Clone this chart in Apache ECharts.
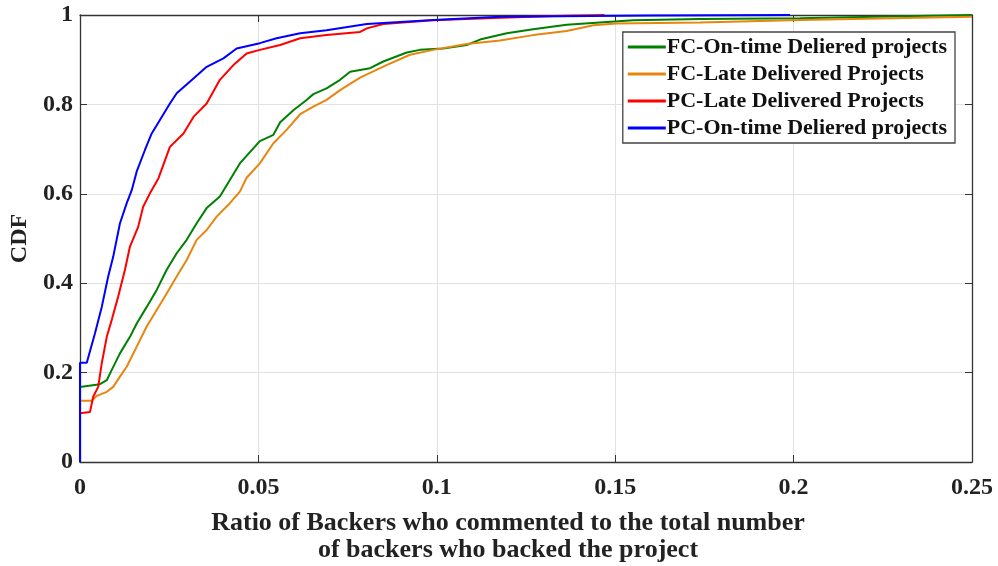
<!DOCTYPE html>
<html>
<head>
<meta charset="utf-8">
<script src="https://cdn.jsdelivr.net/npm/echarts@6/dist/echarts.min.js"></script>
<style>
  html, body { margin: 0; padding: 0; background: #fff; }
  #main { width: 998px; height: 566px; }
</style>
</head>
<body>
<div id="main"></div>
<script>
// series names, in legend order
var seriesNames = ['FC-On-time Deliered projects', 'FC-Late Delivered Projects', 'PC-Late Delivered Projects', 'PC-On-time Deliered projects'];
var seriesColors = ['#008000', '#e8850e', '#ff0000', '#0000ff'];

// [ratio, cdf] points
var fcOnTime = [
  [0, 0.168], [0.0056, 0.174], [0.0075, 0.183], [0.0089, 0.206], [0.0112, 0.243], [0.014, 0.28],
  [0.0159, 0.31], [0.0187, 0.347], [0.0215, 0.385], [0.0243, 0.43], [0.0271, 0.467], [0.0299, 0.497],
  [0.0327, 0.534], [0.0355, 0.568], [0.0392, 0.594], [0.042, 0.631], [0.0448, 0.668], [0.0504, 0.718],
  [0.0542, 0.732], [0.0561, 0.76], [0.0598, 0.787], [0.0635, 0.81], [0.0654, 0.823], [0.0691, 0.836],
  [0.0729, 0.855], [0.0757, 0.873], [0.0813, 0.881], [0.085, 0.896], [0.0916, 0.916], [0.0953, 0.922],
  [0.1018, 0.925], [0.1084, 0.933], [0.1121, 0.945], [0.1196, 0.959], [0.127, 0.968], [0.1364, 0.978],
  [0.1457, 0.983], [0.155, 0.988], [0.1738, 0.991], [0.2018, 0.993], [0.23, 0.997], [0.25, 1.0]
];
var fcLate = [
  [0, 0.137], [0.0033, 0.137], [0.0047, 0.148], [0.0075, 0.157], [0.0093, 0.168], [0.0112, 0.191],
  [0.0131, 0.213], [0.0159, 0.258], [0.0187, 0.303], [0.0215, 0.34], [0.0243, 0.377], [0.0271, 0.415],
  [0.0299, 0.452], [0.0327, 0.497], [0.0355, 0.519], [0.0383, 0.549], [0.042, 0.579], [0.0448, 0.605],
  [0.0467, 0.636], [0.0504, 0.668], [0.0542, 0.713], [0.0579, 0.743], [0.0617, 0.778], [0.0654, 0.795],
  [0.0691, 0.81], [0.0729, 0.832], [0.0785, 0.86], [0.0859, 0.888], [0.0925, 0.911], [0.099, 0.922],
  [0.1084, 0.935], [0.1177, 0.943], [0.127, 0.955], [0.1364, 0.964], [0.1439, 0.977], [0.1504, 0.981],
  [0.1738, 0.983], [0.2018, 0.989], [0.25, 0.996]
];
var pcLate = [
  [0, 0.109], [0.0028, 0.112], [0.0037, 0.146], [0.0051, 0.168], [0.0061, 0.221], [0.0075, 0.28],
  [0.0089, 0.318], [0.0107, 0.37], [0.0126, 0.43], [0.014, 0.482], [0.0163, 0.526], [0.0177, 0.571],
  [0.0196, 0.601], [0.022, 0.635], [0.0252, 0.705], [0.029, 0.735], [0.0318, 0.772], [0.0355, 0.802],
  [0.0392, 0.855], [0.043, 0.888], [0.0467, 0.914], [0.0504, 0.922], [0.0561, 0.933], [0.0617, 0.948],
  [0.0691, 0.955], [0.0785, 0.962], [0.0804, 0.97], [0.085, 0.98], [0.099, 0.988], [0.114, 0.993],
  [0.1327, 0.998], [0.147, 1.0]
];
var pcOnTime = [
  [0, 0], [0, 0.222], [0.0019, 0.222], [0.0042, 0.288], [0.0061, 0.347], [0.0079, 0.415],
  [0.0093, 0.459], [0.0112, 0.534], [0.0131, 0.579], [0.0145, 0.608], [0.0159, 0.65], [0.0182, 0.698],
  [0.0201, 0.735], [0.0224, 0.765], [0.0252, 0.802], [0.0271, 0.825], [0.0318, 0.858], [0.0355, 0.884],
  [0.0402, 0.903], [0.0439, 0.925], [0.0504, 0.937], [0.0551, 0.948], [0.0617, 0.959], [0.0691, 0.966],
  [0.0804, 0.98], [0.099, 0.989], [0.1177, 0.996], [0.16, 0.999], [0.199, 1.0]
];
var seriesData = [fcOnTime, fcLate, pcLate, pcOnTime];

var xTitle = 'Ratio of Backers who commented to the total number\nof backers who backed the project';
var yTitle = 'CDF';

var font = '"Liberation Serif", "Times New Roman", serif';
var myChart = echarts.init(document.getElementById('main'));

var tickStyle = { show: true, inside: true, length: 7, lineStyle: { color: '#333', width: 1 } };
var axisLine = { show: true, onZero: false, lineStyle: { color: '#333', width: 1.3 } };

var option = {
  animation: false,
  backgroundColor: '#fff',
  grid: { left: 80, right: 26, top: 15, bottom: 104, containLabel: false, outerBoundsMode: 'none' },
  legend: {
    orient: 'vertical',
    right: 43,
    top: 32,
    padding: [4, 8, 4, 5],
    backgroundColor: '#fff',
    borderColor: '#444',
    borderWidth: 1.3,
    borderRadius: 0,
    itemWidth: 38,
    itemHeight: 3,
    itemGap: 5,
    icon: 'rect',
    data: seriesNames,
    textStyle: { fontFamily: font, fontWeight: 'bold', fontSize: 22, color: '#111', padding: [0, 0, 0, -4] }
  },
  xAxis: [{
    type: 'value', min: 0, max: 0.25, interval: 0.05,
    name: xTitle, nameLocation: 'middle', nameGap: 48,
    nameTextStyle: { fontFamily: font, fontWeight: 'bold', fontSize: 26, color: '#222', lineHeight: 27,
      padding: [0, 36, 0, 0] },
    axisLine: axisLine, axisTick: tickStyle,
    axisLabel: { fontFamily: font, fontWeight: 'bold', fontSize: 24, color: '#222', margin: 14,
      formatter: function (v) { return String(+v.toFixed(2)); } },
    splitLine: { show: true, lineStyle: { color: '#e2e2e2', width: 1 } }
  }, {
    type: 'value', min: 0, max: 0.25, interval: 0.05, position: 'top',
    axisLine: axisLine, axisTick: tickStyle, axisLabel: { show: false }, splitLine: { show: false }
  }],
  yAxis: [{
    type: 'value', min: 0, max: 1, interval: 0.2,
    name: yTitle, nameLocation: 'middle', nameGap: 47, nameRotate: 90,
    nameTextStyle: { fontFamily: font, fontWeight: 'bold', fontSize: 24, color: '#222' },
    axisLine: axisLine, axisTick: tickStyle,
    axisLabel: { fontFamily: font, fontWeight: 'bold', fontSize: 24, color: '#222', margin: 7,
      formatter: function (v) { return String(+v.toFixed(1)); } },
    splitLine: { show: true, lineStyle: { color: '#e2e2e2', width: 1 } }
  }, {
    type: 'value', min: 0, max: 1, interval: 0.2, position: 'right',
    axisLine: axisLine, axisTick: tickStyle, axisLabel: { show: false }, splitLine: { show: false }
  }],
  series: seriesNames.map(function (name, i) {
    return {
      name: name,
      type: 'line',
      data: seriesData[i],
      showSymbol: false,
      symbol: 'none',
      color: seriesColors[i],
      lineStyle: { width: 2, color: seriesColors[i] },
      z: 2 + i
    };
  })
};

myChart.setOption(option);
</script>
</body>
</html>
